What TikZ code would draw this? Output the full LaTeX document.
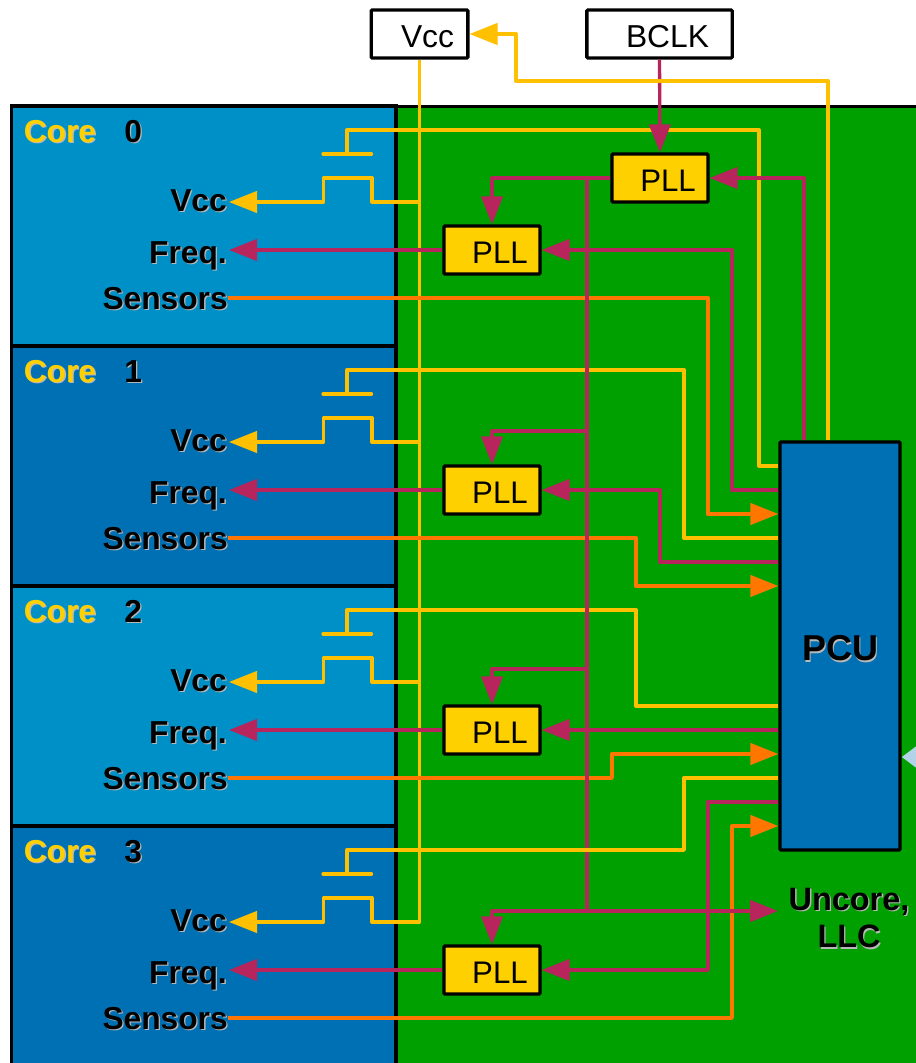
\documentclass[tikz,border=0pt]{standalone}
\usepackage{fontspec}
\setmainfont{Liberation Sans}
\usetikzlibrary{arrows.meta,calc}
\definecolor{wyel}{HTML}{FFC000}
\definecolor{wmag}{HTML}{B8245C}
\definecolor{wora}{HTML}{FF7700}
\definecolor{bggreen}{HTML}{00A000}
\definecolor{pllfill}{HTML}{FFD000}
\definecolor{bluea}{HTML}{0090C8}
\definecolor{blueb}{HTML}{0070B4}
\definecolor{bluet}{HTML}{B4D2E8}
\newcommand{\shad}[2][black]{\leavevmode\rlap{\kern1pt\raisebox{-1pt}{\color{white!72!black}#2}}\textcolor{#1}{#2}}
\tikzset{
  x=0.75pt,y=-0.75pt,
  corebox/.style={draw=black,line width=2.5pt,minimum width=288.4pt,minimum height=180pt,inner sep=0pt},
  extbox/.style={draw=black,fill=white,line width=2.5pt,rounded corners=0.8pt,minimum height=36pt,inner sep=0pt,text height=20.2pt,text depth=0pt,font=\fontsize{23.8}{26}\selectfont},
  pllbox/.style={draw=black,fill=pllfill,line width=2.5pt,rounded corners=0.8pt,minimum width=72pt,minimum height=36pt,inner sep=0pt,text height=20.2pt,text depth=0pt,font=\fontsize{23.4}{26}\selectfont},
  lab/.style={anchor=base east,inner sep=0pt,font=\bfseries\fontsize{23.8}{26}\selectfont},
  corelab/.style={anchor=base west,inner sep=0pt,font=\bfseries\fontsize{23.8}{26}\selectfont},
  wire/.style={line width=2.5pt,line join=round},
  ywire/.style={wire,draw=wyel},
  mwire/.style={wire,draw=wmag},
  owire/.style={wire,draw=wora},
  yarr/.style={ywire,-{Triangle[length=21pt,width=16pt,fill=wyel]}},
  marr/.style={mwire,-{Triangle[length=21pt,width=16pt,fill=wmag]}},
  oarr/.style={owire,-{Triangle[length=21pt,width=16pt,fill=wora]}},
}
\begin{document}
\begin{tikzpicture}
\useasboundingbox (0,0) rectangle (916,1063);
\clip (0,0) rectangle (916,1063);
\fill[white] (0,0) rectangle (916,1063);
% uncore
\node[draw=black,fill=bggreen,line width=2.5pt,minimum width=420pt,minimum height=800pt,inner sep=0pt,anchor=north west] (uncore) at (394.3,104.6) {};
% cores
\node[corebox,fill=bluea] (core0) at (203.8,226) {};
\node[corebox,fill=blueb] (core1) at (203.8,466) {};
\node[corebox,fill=bluea] (core2) at (203.8,706) {};
\node[corebox,fill=blueb] (core3) at (203.8,946) {};
% boxes
\node[extbox,minimum width=72.5pt] (vcc) at (419.5,34) {\hspace*{12pt}Vcc};
\node[extbox,minimum width=109pt] (bclk) at (659.5,34) {\hspace*{12pt}BCLK};
\node[pllbox] (pt) at (660,178) {\hspace*{12pt}PLL};
\node[pllbox] (p0) at (492,250) {\hspace*{12pt}PLL};
\node[pllbox] (p1) at (492,490) {\hspace*{12pt}PLL};
\node[pllbox] (p2) at (492,730) {\hspace*{12pt}PLL};
\node[pllbox] (p3) at (492,970) {\hspace*{12pt}PLL};
\node[draw=black,fill=blueb,line width=2.5pt,minimum width=90pt,minimum height=306pt,inner sep=0pt,rounded corners=0.8pt] (pcu) at (840,646) {};
\node[inner sep=0pt,font=\bfseries\fontsize{27}{30}\selectfont] (pcut) at (840.5,649) {\shad{PCU}};
\node[inner sep=0pt,align=center,font=\bfseries\fontsize{24.3}{28}\selectfont] (unc) at (849,919) {\shad{Uncore,}\\\shad{LLC}};
% core labels
\foreach \i/\yy in {0/0,1/240,2/480,3/720}{
  \node[corelab] (cl\i) at (23.5,142+\yy) {\shad[pllfill]{Core}};
  \node[corelab] (cn\i) at (124,142+\yy) {\shad{\i}};
  \node[lab] (lv\i) at (227,211+\yy) {\shad{Vcc}};
  \node[lab] (lf\i) at (227,263+\yy) {\shad{Freq.}};
  \node[lab] (ls\i) at (228,309+\yy) {\shad{Sensors}};
  \coordinate (tv\i) at (229,202+\yy);
  \coordinate (tf\i) at (229,250+\yy);
  \coordinate (ts\i) at (228,298+\yy);
}
% yellow: supply
\draw[ywire] (vcc.south) -- (vcc.south |- 0,922) -- (372,922);
\foreach \yy/\i in {0/0,240/1,480/2,720/3}{
  \draw[yarr] (vcc.south |- 0,202+\yy) -- (372,202+\yy) -- (372,178+\yy) -- (323.5,178+\yy) -- (323.5,202+\yy) -- (tv\i);
  \draw[ywire,line cap=round] (323,154+\yy) -- (371.5,154+\yy);
}
\draw[ywire] (347,154) -- (347,130) -- (759,130) -- (759,466) -- (pcu.west |- 0,466);
\draw[ywire] (347,394) -- (347,370) -- (684,370) -- (684,538) -- (pcu.west |- 0,538);
\draw[ywire] (347,634) -- (347,610) -- (636,610) -- (636,706) -- (pcu.west |- 0,706);
% orange
\draw[oarr] (ts0) -- (708,298) -- (708,514) -- (pcu.west |- 0,514);
\draw[oarr] (ts1) -- (636,538) -- (636,586) -- (pcu.west |- 0,586);
\draw[oarr] (ts2) -- (612,778) -- (612,754) -- (pcu.west |- 0,754);
\draw[oarr] (ts3) -- (732,1018) -- (732,826) -- (pcu.west |- 0,826);
% magenta
\draw[mwire] (pt.west) -- (587,178) -- (587,911);
\draw[marr] (bclk.south) -- (pt.north);
\draw[marr] (587,178) -- (492,178) -- (p0.north);
\draw[marr] (587,431) -- (492,431) -- (p1.north);
\draw[marr] (587,669) -- (492,669) -- (p2.north);
\draw[marr] (587,911) -- (492,911) -- (p3.north);
\coordinate (uncin) at (778,911);
\draw[marr] (587,911) -- (uncin);
\draw[marr] (pcu.north -| 804,0) -- (804,178) -- (pt.east);
\draw[marr] (pcu.west |- 0,490) -- (732,490) -- (732,250) -- (p0.east);
\draw[marr] (pcu.west |- 0,562) -- (660,562) -- (660,490) -- (p1.east);
\draw[marr] (pcu.west |- 0,730) -- (p2.east);
\draw[marr] (pcu.west |- 0,802) -- (708,802) -- (708,970) -- (p3.east);
\foreach \i in {0,1,2,3}{
  \draw[marr] (p\i.west) -- (tf\i);
}
% yellow on top
\draw[ywire] (347,874) -- (347,850) -- (684,850) -- (684,778) -- (pcu.west |- 0,778);
\draw[yarr] (pcu.north -| 828,0) -- (828,81) -- (516,81) -- (516,34) -- (vcc.east);
% off-page link
\coordinate (offr) at (950,757);
\draw[line width=6pt,draw=bluet,-{Triangle[length=21pt,width=30pt,fill=bluet]}] (offr) -- (pcu.east |- 0,757);
\end{tikzpicture}
\end{document}
